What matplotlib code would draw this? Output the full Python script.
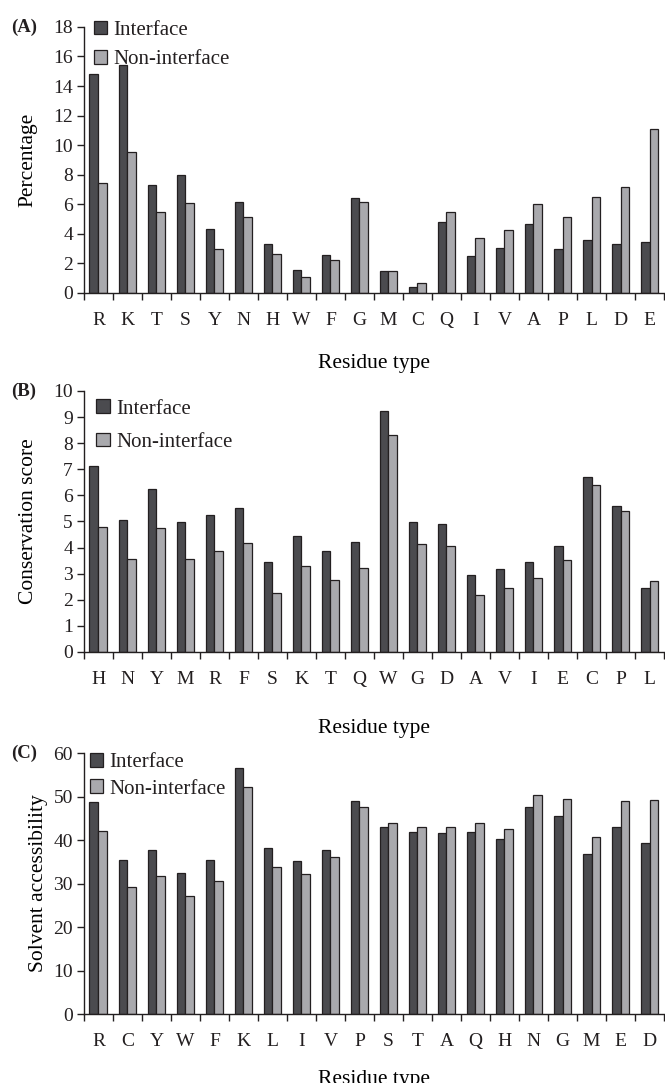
import matplotlib
matplotlib.use("Agg")
import matplotlib.pyplot as plt
import numpy as np

plt.rcParams['font.family'] = ['Liberation Serif', 'DejaVu Serif']
plt.rcParams['text.color'] = '#231f20'
plt.rcParams['axes.edgecolor'] = '#231f20'
plt.rcParams['xtick.color'] = '#231f20'
plt.rcParams['ytick.color'] = '#231f20'

# (A) 残基の割合
res_a = ["R", "K", "T", "S", "Y", "N", "H", "W", "F", "G",
         "M", "C", "Q", "I", "V", "A", "P", "L", "D", "E"]
int_a = [14.8, 15.4, 7.3, 7.95, 4.3, 6.15, 3.3, 1.55, 2.55, 6.4,
         1.45, 0.4, 4.8, 2.5, 3.05, 4.65, 2.95, 3.55, 3.3, 3.45]
non_a = [7.4, 9.5, 5.45, 6.1, 2.95, 5.1, 2.65, 1.05, 2.25, 6.15,
         1.5, 0.65, 5.45, 3.7, 4.25, 6.0, 5.1, 6.5, 7.15, 11.1]

# (B) 保存スコア
res_b = ["H", "N", "Y", "M", "R", "F", "S", "K", "T", "Q",
         "W", "G", "D", "A", "V", "I", "E", "C", "P", "L"]
int_b = [7.12, 5.05, 6.25, 4.97, 5.23, 5.5, 3.45, 4.45, 3.87, 4.22,
         9.22, 4.97, 4.9, 2.95, 3.18, 3.45, 4.05, 6.7, 5.6, 2.44]
non_b = [4.8, 3.58, 4.75, 3.58, 3.85, 4.18, 2.26, 3.3, 2.75, 3.22,
         8.3, 4.14, 4.05, 2.17, 2.44, 2.83, 3.53, 6.38, 5.41, 2.7]

# (C) 溶媒接触性
res_c = ["R", "C", "Y", "W", "F", "K", "L", "I", "V", "P",
         "S", "T", "A", "Q", "H", "N", "G", "M", "E", "D"]
int_c = [48.7, 35.3, 37.7, 32.4, 35.3, 56.6, 38.2, 35.1, 37.7, 49.0,
         43.1, 41.9, 41.7, 41.9, 40.2, 47.7, 45.6, 36.8, 42.9, 39.4]
non_c = [42.1, 29.2, 31.8, 27.2, 30.5, 52.1, 33.8, 32.2, 36.0, 47.7,
         43.8, 42.9, 42.9, 43.8, 42.6, 50.3, 49.4, 40.7, 49.0, 49.3]

dark = "#4b4b4f"
light = "#a9a9ad"
edge = "#231f20"
bw = 0.31

fig = plt.figure(figsize=(6.65, 10.83), dpi=100)

# tag, labels, series, ymax, yticks, ylabel, axes rect, ylabel x, legend anchor, legend spacing, xlabel pad
panels = [
    ("(A)", res_a, int_a, non_a, 18, np.arange(0, 19, 2), "Percentage",
     [0.1263, 0.7297, 0.8722, 0.2454], -0.097, (0.017, 1.024), 0.49, 18),
    ("(B)", res_b, int_b, non_b, 10, np.arange(0, 11, 1), "Conservation score",
     [0.1263, 0.3980, 0.8722, 0.2410], -0.095, (0.021, 0.968), 0.67, 22),
    ("(C)", res_c, int_c, non_c, 60, np.arange(0, 61, 10), "Solvent accessibility",
     [0.1263, 0.0637, 0.8722, 0.2410], -0.079, (0.010, 1.001), 0.35, 14),
]

for tag, res, vi, vn, ymax, yt, ylab, pos, ylx, lpos, lsp, xlp in panels:
    ax = fig.add_axes(pos)
    x = np.arange(len(res))
    ax.bar(x - bw / 2, vi, bw, color=dark, edgecolor=edge, linewidth=0.9, label="Interface")
    ax.bar(x + bw / 2, vn, bw, color=light, edgecolor=edge, linewidth=0.9, label="Non-interface")
    ax.set_xlim(-0.5, len(res) - 0.5)
    ax.set_ylim(0, ymax)
    ax.set_yticks(yt)
    ax.set_xticks(x)
    ax.set_xticklabels(res)
    ax.set_xticks(np.arange(len(res) + 1) - 0.5, minor=True)
    ax.tick_params(axis="x", which="major", length=0, pad=14, labelsize=14)
    ax.tick_params(axis="x", which="minor", length=5, width=1, direction="out")
    ax.tick_params(axis="y", length=5, width=1, pad=3, labelsize=14)
    for s in ["top", "right"]:
        ax.spines[s].set_visible(False)
    ax.spines["left"].set_linewidth(1)
    ax.spines["bottom"].set_linewidth(1)
    ax.set_xlabel("Residue type", fontsize=15.5, labelpad=xlp)
    ax.set_ylabel(ylab, fontsize=15.5, va="center")
    ax.yaxis.set_label_coords(ylx, 0.5)
    ax.legend(loc="upper left", bbox_to_anchor=lpos, frameon=False, fontsize=15,
              handlelength=0.65, handleheight=0.65, handletextpad=0.3,
              labelspacing=lsp, borderpad=0, borderaxespad=0)
    ax.text(-0.1034, 1.0, tag, transform=ax.transAxes, fontsize=13.5, fontweight="bold",
            ha="center", va="center")

fig.savefig("out.png", dpi=100)
